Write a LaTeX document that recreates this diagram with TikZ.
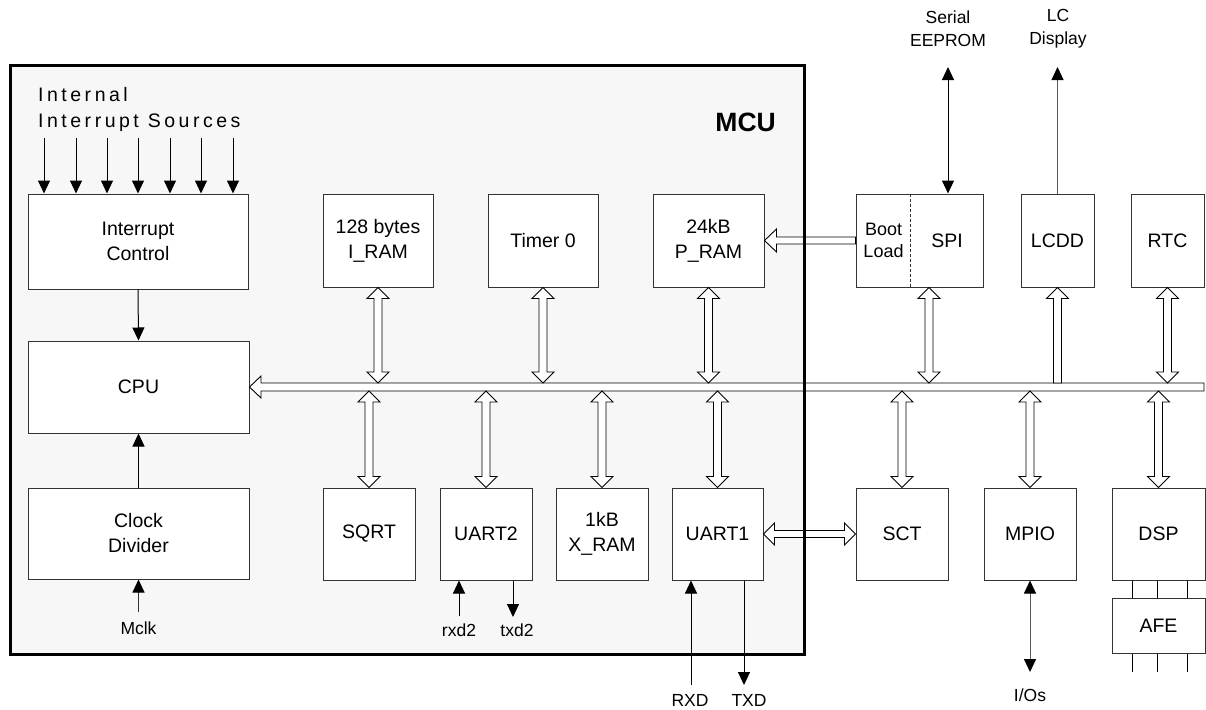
\documentclass[tikz,border=0pt]{standalone}
\usepackage{fontspec}
\setmainfont{Liberation Sans}
\newfontfamily\spacedfont[LetterSpace=18]{Liberation Sans}
\usetikzlibrary{arrows.meta,calc}
\newcommand\myBig{\fontsize{19.5}{25}\selectfont}
\newcommand\myMid{\fontsize{18}{22}\selectfont}
\newcommand\mySmall{\fontsize{17.5}{23}\selectfont}
% hollow arrows
\newcommand\vdbl[2]{\draw[hol] let \p1=(#1), \p2=(#2) in
  (\x1,\y1) -- (\x1+11pt,\y1-11pt) -- (\x1+4pt,\y1-11pt) -- (\x1+4pt,\y2+11pt) -- (\x1+11pt,\y2+11pt)
  -- (\x1,\y2) -- (\x1-11pt,\y2+11pt) -- (\x1-4pt,\y2+11pt) -- (\x1-4pt,\y1-11pt) -- (\x1-11pt,\y1-11pt) -- cycle;}
\newcommand\vup[2]{\draw[hol] let \p1=(#1), \p2=(#2) in
  (\x1,\y1) -- (\x1+11pt,\y1-11pt) -- (\x1+4pt,\y1-11pt) -- (\x1+4pt,\y2)
  -- (\x1-4pt,\y2) -- (\x1-4pt,\y1-11pt) -- (\x1-11pt,\y1-11pt) -- cycle;}
\newcommand\hleft[2]{\draw[hol] let \p1=(#1), \p2=(#2) in
  (\x1,\y1) -- (\x1+12pt,\y1+11.5pt) -- (\x1+12pt,\y1+3.5pt) -- (\x2,\y1+3.5pt)
  -- (\x2,\y1-3.5pt) -- (\x1+12pt,\y1-3.5pt) -- (\x1+12pt,\y1-11.5pt) -- cycle;}
\newcommand\hdbl[2]{\draw[hol] let \p1=(#1), \p2=(#2) in
  (\x1,\y1) -- (\x1+11pt,\y1+11pt) -- (\x1+11pt,\y1+3.5pt) -- (\x2-11pt,\y1+3.5pt) -- (\x2-11pt,\y1+11pt)
  -- (\x2,\y1) -- (\x2-11pt,\y1-11pt) -- (\x2-11pt,\y1-3.5pt) -- (\x1+11pt,\y1-3.5pt) -- (\x1+11pt,\y1-11pt) -- cycle;}
\begin{document}
\begin{tikzpicture}[x=1pt,y=1pt,
  blk/.style={draw=black!80, line width=1pt, fill=white, align=center, inner sep=0pt, font=\myBig},
  hol/.style={draw=black, line width=0.9pt, fill=white, line join=miter},
  arr/.style={-{Triangle[length=13pt,width=12pt,color=black]}, line width=1pt},
  darr/.style={{Triangle[length=13pt,width=12pt,color=black]}-{Triangle[length=13pt,width=12pt,color=black]}, line width=1pt},
  lbl/.style={font=\mySmall, align=center, inner sep=2pt}]
\useasboundingbox (0,0) rectangle (1206,-709);
\fill[black!3] (10,-65.5) rectangle (804.5,-654.5);

% left column
\node[blk, minimum width=220pt, minimum height=95pt] (ic) at (138,-241.5) {Interrupt\\Control};
\node[blk, minimum width=221pt, minimum height=92pt] (cpu) at (138.5,-387) {CPU};
\node[blk, minimum width=221pt, minimum height=91pt] (cd) at (138.5,-533.5) {Clock\\Divider};

% top row
\node[blk, minimum width=110pt, minimum height=93pt] (iram) at (378,-240.5) {128 bytes\\I\_RAM};
\node[blk, minimum width=110pt, minimum height=93pt] (timer) at (543,-240.5) {Timer 0};
\node[blk, minimum width=111pt, minimum height=93pt] (pram) at (708.5,-240.5) {24kB\\P\_RAM};
\node[blk, minimum width=127pt, minimum height=93pt] (bs) at (919.5,-240.5) {};
\node[font=\myMid, align=center, inner sep=0pt] (boot) at (883.5,-240.5) {Boot\\Load};
\node[font=\myBig, inner sep=0pt] (spi) at (947,-240.5) {SPI};
\draw[black!80, densely dashed, line width=0.8pt] ($(bs.north west)+(55pt,0)$) -- ($(bs.south west)+(55pt,0)$);
\node[blk, minimum width=73pt, minimum height=93pt] (lcdd) at (1057.5,-240.5) {LCDD};
\node[blk, minimum width=73pt, minimum height=93pt] (rtc) at (1167.5,-240.5) {RTC};

% bottom row
\node[blk, minimum width=92pt, minimum height=92pt] (sqrt) at (369,-534) {SQRT};
\node[blk, minimum width=92pt, minimum height=92pt] (uart2) at (486,-534) {UART2};
\node[blk, minimum width=92pt, minimum height=92pt] (xram) at (602,-534) {1kB\\X\_RAM};
\node[blk, minimum width=91pt, minimum height=92pt] (uart1) at (717.5,-534) {UART1};
\node[blk, minimum width=92pt, minimum height=92pt] (sct) at (902,-534) {SCT};
\node[blk, minimum width=92pt, minimum height=92pt] (mpio) at (1030,-534) {MPIO};
\node[blk, minimum width=93pt, minimum height=92pt] (dsp) at (1158.5,-534) {DSP};
\node[blk, minimum width=93pt, minimum height=55pt] (afe) at (1158.5,-625.5) {AFE};

% bus
\node[minimum width=943pt, minimum height=8pt, inner sep=0pt, outer sep=0pt] (bus) at (732.5,-387) {};
\draw[hol] (bus.north east) -- (bus.south east) -- (bus.south west) -- ++(0,-7pt)
  -- (cpu.east |- bus.center) -- ($(bus.north west)+(0,7pt)$) -- (bus.north west) -- cycle;

% bus connections
\vdbl{iram.south}{iram.south |- bus.north}
\vdbl{timer.south}{timer.south |- bus.north}
\vdbl{pram.south}{pram.south |- bus.north}
\coordinate (spib) at ($(bs.south)+(9.5pt,0)$);
\vdbl{spib}{spib |- bus.north}
\vup{lcdd.south}{lcdd.south |- bus.north}
\vdbl{rtc.south}{rtc.south |- bus.north}
\vdbl{sqrt.north |- bus.south}{sqrt.north}
\vdbl{uart2.north |- bus.south}{uart2.north}
\vdbl{xram.north |- bus.south}{xram.north}
\vdbl{uart1.north |- bus.south}{uart1.north}
\vdbl{sct.north |- bus.south}{sct.north}
\vdbl{mpio.north |- bus.south}{mpio.north}
\vdbl{dsp.north |- bus.south}{dsp.north}
\hleft{pram.east}{pram.east -| bs.west}
\hdbl{uart1.east}{uart1.east -| sct.west}

% interrupt sources
\node[font={\spacedfont\fontsize{19.5}{26}\selectfont}, align=left, anchor=west, inner sep=0pt] (iis) at (38,-109) {Internal\\Interrupt Sources};
\foreach \x in {44,76,107,138,170,201,233} \draw[arr] (\x,-138) -- (\x,-138 |- ic.north);
\draw[arr] (ic.south) -- (cpu.north);
\draw[arr] (cd.north) -- (cpu.south);

\node[font=\bfseries\fontsize{26.5}{30}\selectfont, anchor=east, inner sep=0pt] (mcu) at (776,-122) {MCU};

% external labels
\node[lbl] (eepl) at (948,-29) {Serial\\EEPROM};
\node[lbl] (lcl) at (1058,-29) {LC\\Display};
\coordinate (eep) at (948,-67);
\draw[darr] (eep) -- (eep |- bs.north);
\draw[arr, draw=black!65] (lcdd.north) -- (lcdd.north |- eep);

\node[lbl] (mclk) at (138.5,-628) {Mclk};
\draw[arr, draw=black!80] ($(mclk.north)+(0,7pt)$) -- (cd.south);

\node[lbl] (rxd2) at (459,-630) {rxd2};
\draw[arr] ($(rxd2.north)+(0,5pt)$) -- (rxd2.north |- uart2.south);
\node[lbl] (txd2) at (517,-630) {txd2};
\coordinate (t2) at (513,-617);
\draw[arr] (t2 |- uart2.south) -- (t2);

\node[lbl] (rxd) at (690,-700) {RXD};
\coordinate (r1) at (691,-685);
\draw[arr] (r1) -- (r1 |- uart1.south);
\node[lbl] (txd) at (749,-700) {TXD};
\coordinate (t1) at (744,-685);
\draw[arr] (t1 |- uart1.south) -- (t1);

\node[lbl] (ios) at (1030,-695) {I/Os};
\coordinate (io) at (1030,-672);
\draw[darr, draw=black!65] (mpio.south) -- (io);

% DSP - AFE lines
\foreach \x in {1132,1157,1187} {
  \draw[line width=1pt] (\x,0 |- dsp.south) -- (\x,0 |- afe.north);
  \draw[line width=1pt] (\x,0 |- afe.south) -- (\x,-672);
}

% MCU border on top
\draw[line width=3pt] (10,-65.5) rectangle (804.5,-654.5);
\end{tikzpicture}
\end{document}
